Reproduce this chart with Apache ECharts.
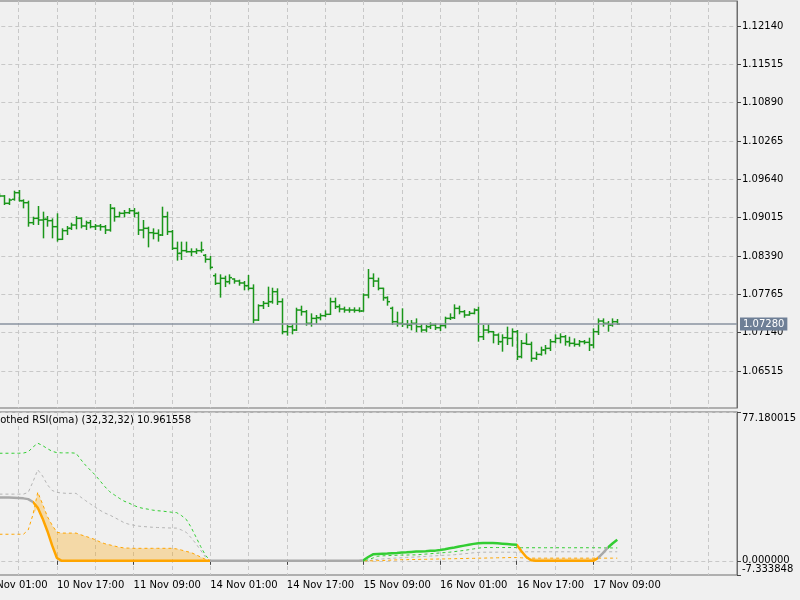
<!DOCTYPE html>
<html>
<head>
<meta charset="utf-8">
<title>EURUSD H1 - Smoothed RSI(oma)</title>
<script src="https://cdn.jsdelivr.net/npm/echarts@6/dist/echarts.min.js"></script>
<style>
  html, body { margin: 0; padding: 0; background: #f0f0f0; }
  #main { width: 800px; height: 600px; }
</style>
</head>
<body>
<div id="main"></div>
<script>
// H1 bars, 10 Nov 05:00 .. 17 Nov 14:00
const opens = [
  1.09384, 1.09368, 1.09249, 1.09314, 1.09422, 1.09292, 1.09259, 1.08933, 1.09004, 1.08977,
  1.08988, 1.08966, 1.08868, 1.08662, 1.08803, 1.08841, 1.08895, 1.09004, 1.08879, 1.08933,
  1.08868, 1.08879, 1.08868, 1.08814, 1.09167, 1.09031, 1.09086, 1.09096, 1.09129, 1.09086,
  1.08814, 1.08841, 1.08770, 1.08759, 1.08732, 1.09031, 1.08787, 1.08515, 1.08433, 1.08477,
  1.08460, 1.08460, 1.08477, 1.08401, 1.08336, 1.08069, 1.07944, 1.08026, 1.07971, 1.08015,
  1.07982, 1.07950, 1.07906, 1.07863, 1.07346, 1.07580, 1.07618, 1.07645, 1.07808, 1.07645,
  1.07156, 1.07238, 1.07183, 1.07509, 1.07482, 1.07292, 1.07373, 1.07384, 1.07417, 1.07439,
  1.07645, 1.07564, 1.07526, 1.07509, 1.07509, 1.07504, 1.07493, 1.07754, 1.08026, 1.07982,
  1.07863, 1.07711, 1.07537, 1.07319, 1.07292, 1.07276, 1.07265, 1.07292, 1.07238, 1.07183,
  1.07238, 1.07265, 1.07221, 1.07254, 1.07373, 1.07384, 1.07536, 1.07482, 1.07428, 1.07455,
  1.07509, 1.07074, 1.07183, 1.07156, 1.07102, 1.06993, 1.07058, 1.07047, 1.07156, 1.06749,
  1.06966, 1.06950, 1.06721, 1.06786, 1.06857, 1.06884, 1.06993, 1.07047, 1.07074, 1.06993,
  1.06966, 1.06950, 1.06993, 1.06982, 1.06939, 1.07156, 1.07330, 1.07292, 1.07265, 1.07319
];
const highs = [
  1.09412, 1.09384, 1.09330, 1.09455, 1.09466, 1.09314, 1.09292, 1.09031, 1.09205, 1.09113,
  1.09042, 1.09004, 1.09086, 1.08841, 1.08879, 1.08933, 1.09042, 1.09020, 1.08966, 1.08977,
  1.08912, 1.08912, 1.08895, 1.09238, 1.09183, 1.09113, 1.09140, 1.09172, 1.09172, 1.09113,
  1.08977, 1.08868, 1.08841, 1.08825, 1.09194, 1.09113, 1.08814, 1.08624, 1.08624, 1.08624,
  1.08515, 1.08515, 1.08624, 1.08422, 1.08390, 1.08107, 1.08091, 1.08069, 1.08091, 1.08026,
  1.08004, 1.07982, 1.08080, 1.07928, 1.07602, 1.07656, 1.07890, 1.07873, 1.07863, 1.07700,
  1.07265, 1.07276, 1.07547, 1.07580, 1.07509, 1.07455, 1.07428, 1.07455, 1.07504, 1.07711,
  1.07711, 1.07602, 1.07564, 1.07553, 1.07553, 1.07553, 1.07781, 1.08178, 1.08107, 1.08037,
  1.07873, 1.07732, 1.07564, 1.07482, 1.07537, 1.07346, 1.07346, 1.07373, 1.07276, 1.07265,
  1.07308, 1.07292, 1.07276, 1.07401, 1.07455, 1.07602, 1.07580, 1.07509, 1.07493, 1.07536,
  1.07564, 1.07265, 1.07276, 1.07167, 1.07129, 1.07113, 1.07238, 1.07210, 1.07183, 1.07020,
  1.07129, 1.06993, 1.06830, 1.06912, 1.06939, 1.07036, 1.07113, 1.07129, 1.07102, 1.07074,
  1.07047, 1.07020, 1.07020, 1.07058, 1.07210, 1.07373, 1.07373, 1.07330, 1.07373, 1.07363
];
const lows = [
  1.09346, 1.09221, 1.09221, 1.09292, 1.09276, 1.09167, 1.08868, 1.08895, 1.08895, 1.08678,
  1.08868, 1.08678, 1.08624, 1.08651, 1.08732, 1.08814, 1.08825, 1.08841, 1.08814, 1.08841,
  1.08814, 1.08803, 1.08749, 1.08787, 1.08950, 1.09020, 1.09020, 1.09075, 1.09020, 1.08732,
  1.08678, 1.08531, 1.08662, 1.08624, 1.08716, 1.08732, 1.08488, 1.08314, 1.08325, 1.08444,
  1.08390, 1.08422, 1.08444, 1.08281, 1.08172, 1.07917, 1.07711, 1.07884, 1.07928, 1.07939,
  1.07906, 1.07830, 1.07830, 1.07292, 1.07330, 1.07526, 1.07558, 1.07613, 1.07591, 1.07113,
  1.07091, 1.07113, 1.07167, 1.07417, 1.07254, 1.07238, 1.07287, 1.07341, 1.07395, 1.07428,
  1.07526, 1.07471, 1.07466, 1.07466, 1.07466, 1.07471, 1.07482, 1.07700, 1.07884, 1.07830,
  1.07661, 1.07580, 1.07265, 1.07238, 1.07232, 1.07210, 1.07178, 1.07150, 1.07145, 1.07145,
  1.07199, 1.07183, 1.07167, 1.07210, 1.07346, 1.07363, 1.07439, 1.07384, 1.07417, 1.07439,
  1.06993, 1.07020, 1.07129, 1.06966, 1.06939, 1.06830, 1.06939, 1.06912, 1.06694, 1.06721,
  1.06939, 1.06667, 1.06694, 1.06765, 1.06786, 1.06841, 1.06966, 1.06966, 1.06928, 1.06912,
  1.06912, 1.06912, 1.06950, 1.06841, 1.06884, 1.07102, 1.07238, 1.07156, 1.07238, 1.07265
];
const closes = [
  1.09368, 1.09249, 1.09303, 1.09422, 1.09292, 1.09259, 1.08933, 1.09004, 1.08977, 1.08988,
  1.08966, 1.08868, 1.08662, 1.08803, 1.08841, 1.08895, 1.09004, 1.08879, 1.08933, 1.08868,
  1.08879, 1.08868, 1.08814, 1.09167, 1.09031, 1.09086, 1.09096, 1.09129, 1.09086, 1.08814,
  1.08841, 1.08770, 1.08759, 1.08732, 1.09031, 1.08787, 1.08515, 1.08433, 1.08477, 1.08460,
  1.08460, 1.08477, 1.08488, 1.08336, 1.08205, 1.07944, 1.08026, 1.07971, 1.08037, 1.07982,
  1.07950, 1.07906, 1.07863, 1.07346, 1.07580, 1.07618, 1.07645, 1.07808, 1.07645, 1.07156,
  1.07238, 1.07183, 1.07509, 1.07482, 1.07292, 1.07373, 1.07384, 1.07417, 1.07439, 1.07645,
  1.07564, 1.07526, 1.07509, 1.07509, 1.07504, 1.07493, 1.07754, 1.08026, 1.07982, 1.07863,
  1.07711, 1.07645, 1.07319, 1.07292, 1.07276, 1.07265, 1.07292, 1.07238, 1.07183, 1.07238,
  1.07265, 1.07221, 1.07254, 1.07373, 1.07384, 1.07536, 1.07482, 1.07428, 1.07455, 1.07509,
  1.07074, 1.07183, 1.07156, 1.07102, 1.06993, 1.07058, 1.07047, 1.07156, 1.06749, 1.06966,
  1.06950, 1.06721, 1.06786, 1.06857, 1.06884, 1.06993, 1.07047, 1.07074, 1.06993, 1.06966,
  1.06950, 1.06993, 1.06982, 1.06939, 1.07156, 1.07330, 1.07292, 1.07265, 1.07319, 1.07280
];

// Smoothed RSI(oma) (32,32,32): main line and its three bands
const rsi = [
  32.8, 32.8, 32.8, 32.7, 32.6, 32.4, 32.0, 30.5, 27.5, 22.0,
  15.5, 8.0, 1.5, 0, 0, 0, 0, 0, 0, 0,
  0, 0, 0, 0, 0, 0, 0, 0, 0, 0,
  0, 0, 0, 0, 0, 0, 0, 0, 0, 0,
  0, 0, 0, 0, 0, 0, 0, 0, 0, 0,
  0, 0, 0, 0, 0, 0, 0, 0, 0, 0,
  0, 0, 0, 0, 0, 0, 0, 0, 0, 0,
  0, 0, 0, 0, 0, 0, 0.3, 2.0, 3.4, 3.6,
  3.7, 3.8, 4.0, 4.1, 4.3, 4.4, 4.6, 4.8, 4.9, 5.0,
  5.2, 5.3, 5.6, 6.0, 6.5, 6.9, 7.4, 7.9, 8.4, 8.8,
  9.1, 9.2, 9.2, 9.2, 9.1, 8.9, 8.7, 8.5, 8.3, 5.0,
  2.0, 0.3, 0, 0, 0, 0, 0, 0, 0, 0,
  0, 0, 0, 0, 0, 1.5, 4.0, 6.8, 9.0, 10.961558
];
const bandUp = [
  55.8, 55.8, 55.8, 55.8, 55.8, 55.9, 56.5, 59.0, 61.0, 59.8,
  58.2, 56.8, 56.1, 56.0, 56.0, 56.0, 55.8, 52.5, 49.5, 47.0,
  44.5, 41.5, 38.5, 35.9, 34.2, 32.5, 31.0, 30.0, 28.8, 27.8,
  27.2, 26.8, 26.3, 26.0, 25.8, 25.5, 25.2, 25.0, 23.5, 21.5,
  17.5, 12.5, 7.5, 3.0, 0, 0, 0, 0, 0, 0,
  0, 0, 0, 0, 0, 0, 0, 0, 0, 0,
  0, 0, 0, 0, 0, 0, 0, 0, 0, 0,
  0, 0, 0, 0, 0, 0, 0, 0.5, 1.5, 2.4,
  2.6, 2.7, 2.8, 2.9, 3.0, 3.0, 3.1, 3.1, 3.3, 3.5,
  3.7, 3.9, 4.1, 4.3, 4.5, 4.8, 5.1, 5.4, 5.8, 6.2,
  6.6, 6.9, 6.9, 6.9, 6.9, 6.9, 6.9, 6.9, 6.9, 6.8,
  6.8, 6.8, 6.8, 6.8, 6.8, 6.8, 6.8, 6.8, 6.8, 6.8,
  6.8, 6.8, 6.8, 6.8, 6.8, 6.8, 6.7, 6.7, 6.7, 6.7
];
const bandMid = [
  34.6, 34.6, 34.6, 34.6, 34.6, 34.6, 35.5, 41.0, 47.2, 44.0,
  39.5, 36.5, 35.5, 35.2, 35.0, 35.0, 35.0, 33.0, 31.2, 29.5,
  27.8, 26.2, 24.8, 23.8, 22.5, 21.2, 19.8, 19.0, 18.5, 18.0,
  17.8, 17.6, 17.4, 17.3, 17.2, 17.1, 17.0, 17.0, 16.0, 14.8,
  12.0, 9.0, 5.5, 2.0, 0, 0, 0, 0, 0, 0,
  0, 0, 0, 0, 0, 0, 0, 0, 0, 0,
  0, 0, 0, 0, 0, 0, 0, 0, 0, 0,
  0, 0, 0, 0, 0, 0, 0, 0, 0.5, 0.8,
  1.0, 1.2, 1.3, 1.5, 1.6, 1.8, 1.9, 2.0, 2.2, 2.3,
  2.5, 2.6, 2.8, 2.9, 3.0, 3.2, 3.4, 3.7, 3.9, 4.2,
  4.4, 4.5, 4.5, 4.5, 4.5, 4.5, 4.5, 4.5, 4.5, 4.6,
  4.7, 4.7, 4.7, 4.7, 4.7, 4.7, 4.7, 4.7, 4.7, 4.7,
  4.7, 4.7, 4.7, 4.7, 4.7, 4.7, 4.7, 4.7, 4.7, 4.7
];
const bandDn = [
  13.8, 13.8, 13.8, 13.8, 13.8, 13.8, 16.0, 24.0, 35.6, 29.5,
  23.0, 18.5, 14.8, 14.4, 14.4, 14.4, 14.4, 13.5, 12.7, 11.9,
  11.0, 9.8, 8.9, 8.3, 7.7, 7.1, 6.7, 6.6, 6.5, 6.5,
  6.5, 6.5, 6.5, 6.5, 6.5, 6.5, 6.5, 6.2, 5.6, 4.9,
  4.3, 3.2, 2.0, 0.8, 0, 0, 0, 0, 0, 0,
  0, 0, 0, 0, 0, 0, 0, 0, 0, 0,
  0, 0, 0, 0, 0, 0, 0, 0, 0, 0,
  0, 0, 0, 0, 0, 0, 0, 0, 0, 0.1,
  0.2, 0.3, 0.4, 0.5, 0.6, 0.6, 0.7, 0.7, 0.8, 0.8,
  0.9, 0.9, 1.0, 1.0, 1.1, 1.1, 1.2, 1.2, 1.3, 1.3,
  1.4, 1.4, 1.5, 1.5, 1.6, 1.6, 1.7, 1.7, 1.7, 1.6,
  1.4, 1.4, 1.4, 1.4, 1.4, 1.4, 1.4, 1.4, 1.4, 1.4,
  1.4, 1.4, 1.4, 1.4, 1.4, 1.4, 1.4, 1.4, 1.4, 1.4
];
// colour state of the main line: [fromBar, toBar, state]
const rsiState = [[0, 7, 'flat'], [7, 44, 'down'], [44, 76, 'flat'], [76, 108, 'up'],
                  [108, 125, 'down'], [125, 127, 'flat'], [127, 129, 'up']];

const priceTicks = [1.06515, 1.07140, 1.07765, 1.08390, 1.09015, 1.09640, 1.10265, 1.10890, 1.11515, 1.12140];
const rsiMin = -7.333848;
const rsiMax = 77.180015;
const timeLabels = ['10 Nov 01:00', '10 Nov 17:00', '11 Nov 09:00', '14 Nov 01:00', '14 Nov 17:00',
                    '15 Nov 09:00', '16 Nov 01:00', '16 Nov 17:00', '17 Nov 09:00'];

const PAD = 4;        // 10 Nov 01:00..04:00 sit left of the window
const FUTURE = 25;    // empty slots (chart shift)
const N = PAD + closes.length + FUTURE;
const cats = Array.from({ length: N }, (_, i) => String(i));
const pad = arr => Array(PAD).fill(null).concat(arr);

const font = { fontFamily: 'DejaVu Sans', fontSize: 10, color: '#000' };
const gridLine = { color: '#c8c8c8', width: 1, type: [4, 3] };
const stateColor = { flat: '#a9a9a9', up: '#32cd32', down: '#ffa500' };

const isLabel = i => i % 16 === 0 && i / 16 < timeLabels.length;

function timeAxis(gridIndex, withLabels) {
  return {
    type: 'category', gridIndex: gridIndex, data: cats, boundaryGap: false,
    axisLine: { show: false },
    axisTick: { show: withLabels, length: 4, interval: i => isLabel(i), lineStyle: { color: '#444' } },
    axisLabel: Object.assign({ show: withLabels, interval: i => isLabel(i), align: 'left', margin: 5,
      formatter: (v, i) => timeLabels[i / 16] }, font),
    splitLine: { show: true, interval: i => i % 8 === 0, lineStyle: gridLine }
  };
}

// value axis of the indicator window; the min label sits on its own axis so it is not hidden
const richFont = { fontFamily: 'DejaVu Sans', fontSize: 10, color: '#000' };
function rsiAxis(values, withLine) {
  return {
    type: 'value', gridIndex: 1, position: 'right', min: rsiMin, max: rsiMax,
    axisLine: { show: withLine, lineStyle: { color: '#6e6e6e' } },
    axisTick: { show: true, length: 4, customValues: values, lineStyle: { color: '#444' } },
    axisLabel: Object.assign({
      customValues: values, margin: 5, hideOverlap: false,
      formatter: v => {
        const t = v.toFixed(6);
        if (v === rsiMax) return '{t|' + t + '}';
        if (v === rsiMin) return '{b|' + t + '}';
        return '{m|' + t + '}';
      },
      rich: {
        t: Object.assign({ padding: [12, 0, 0, 0] }, richFont),
        b: Object.assign({ padding: [0, 0, 12, 0] }, richFont),
        m: richFont
      }
    }, font),
    splitLine: { show: withLine, lineStyle: gridLine }
  };
}

const bars = closes.map((c, k) => [k + PAD, opens[k], highs[k], lows[k], c]);
const lastClose = closes[closes.length - 1];
const fillBase = rsi.map((v, k) => Math.min(v, bandDn[k]));
const fillDiff = rsi.map((v, k) => Math.max(bandDn[k] - v, 0));

const pieces = rsiState.map(([a, b, s], k) => k === rsiState.length - 1
  ? { gte: a + PAD, lte: N, color: stateColor[s] }
  : { gte: a + PAD, lt: b + PAD, color: stateColor[s] });

const gridBase = { left: -19.7, right: 63, outerBoundsMode: 'none', containLabel: false, show: true,
  borderColor: '#6e6e6e', borderWidth: 1, backgroundColor: 'transparent' };

const chart = echarts.init(document.getElementById('main'));
chart.setOption({
  animation: false,
  backgroundColor: '#f0f0f0',
  title: {
    text: 'Smoothed RSI(oma) (32,32,32) ' + rsi[rsi.length - 1].toFixed(6),
    left: -22, top: 415, padding: 0,
    textStyle: { fontFamily: 'DejaVu Sans', fontSize: 10, fontWeight: 'normal', color: '#000' }
  },
  grid: [
    Object.assign({ top: 1, height: 407 }, gridBase),
    Object.assign({ top: 412, height: 163 }, gridBase)
  ],
  xAxis: [timeAxis(0, false), timeAxis(1, true)],
  yAxis: [
    {
      type: 'value', gridIndex: 0, position: 'right', min: 1.059117, max: 1.125476,
      axisLine: { show: true, lineStyle: { color: '#6e6e6e' } },
      axisTick: { show: true, length: 4, customValues: priceTicks, lineStyle: { color: '#444' } },
      axisLabel: Object.assign({ customValues: priceTicks, margin: 5, hideOverlap: false,
        formatter: v => v.toFixed(5) }, font),
      splitLine: { show: true, lineStyle: gridLine }
    },
    rsiAxis([0, rsiMax], true),
    rsiAxis([rsiMin], false)
  ],
  visualMap: [{ type: 'piecewise', show: false, dimension: 0, seriesIndex: 7, pieces: pieces }],
  series: [
    {
      type: 'custom', xAxisIndex: 0, yAxisIndex: 0, data: bars,
      encode: { x: 0, y: [1, 2, 3, 4] },
      renderItem: function (params, api) {
        const j = api.value(0);
        const pO = api.coord([j, api.value(1)]);
        const pH = api.coord([j, api.value(2)]);
        const pL = api.coord([j, api.value(3)]);
        const pC = api.coord([j, api.value(4)]);
        const x = Math.round(pO[0]) + 0.5;
        const st = { stroke: '#1a961a', lineWidth: 1.5 };
        return {
          type: 'group',
          children: [
            { type: 'line', shape: { x1: x, y1: pH[1], x2: x, y2: pL[1] }, style: st },
            { type: 'line', shape: { x1: x - 2.5, y1: pO[1], x2: x, y2: pO[1] }, style: st },
            { type: 'line', shape: { x1: x, y1: pC[1], x2: x + 2.5, y2: pC[1] }, style: st }
          ]
        };
      },
      z: 3
    },
    {
      // bid line with its price tag
      type: 'line', xAxisIndex: 0, yAxisIndex: 0, data: pad(closes), symbol: 'none',
      lineStyle: { opacity: 0 }, silent: true,
      markLine: {
        silent: true, symbol: 'none', animation: false, precision: 5,
        lineStyle: { color: '#8a93a0', width: 1.5, type: 'solid' },
        label: {
          position: 'end', distance: 3, formatter: () => lastClose.toFixed(5),
          backgroundColor: '#6e7f96', color: '#fff', padding: [2, 3, 1, 3],
          fontFamily: 'DejaVu Sans', fontSize: 10
        },
        data: [{ yAxis: lastClose }]
      },
      z: 2
    },
    {
      type: 'line', xAxisIndex: 1, yAxisIndex: 1, data: pad(fillBase), stack: 'fill',
      symbol: 'none', lineStyle: { opacity: 0 }, silent: true, z: 1
    },
    {
      type: 'line', xAxisIndex: 1, yAxisIndex: 1, data: pad(fillDiff), stack: 'fill',
      symbol: 'none', lineStyle: { opacity: 0 }, areaStyle: { color: 'rgba(255,165,0,0.3)', opacity: 1 }, silent: true, z: 1
    },
    {
      type: 'line', xAxisIndex: 1, yAxisIndex: 1, data: pad(bandUp), symbol: 'none',
      lineStyle: { color: '#32cd32', width: 1, type: [3, 3] }, z: 2
    },
    {
      type: 'line', xAxisIndex: 1, yAxisIndex: 1, data: pad(bandMid), symbol: 'none',
      lineStyle: { color: '#b4b4b4', width: 1, type: [3, 3] }, z: 2
    },
    {
      type: 'line', xAxisIndex: 1, yAxisIndex: 1, data: pad(bandDn), symbol: 'none',
      lineStyle: { color: '#ffa500', width: 1, type: [3, 3] }, z: 2
    },
    {
      type: 'line', xAxisIndex: 1, yAxisIndex: 1, data: pad(rsi), symbol: 'none',
      lineStyle: { width: 2.5 }, z: 4
    }
  ]
});
</script>
</body>
</html>
